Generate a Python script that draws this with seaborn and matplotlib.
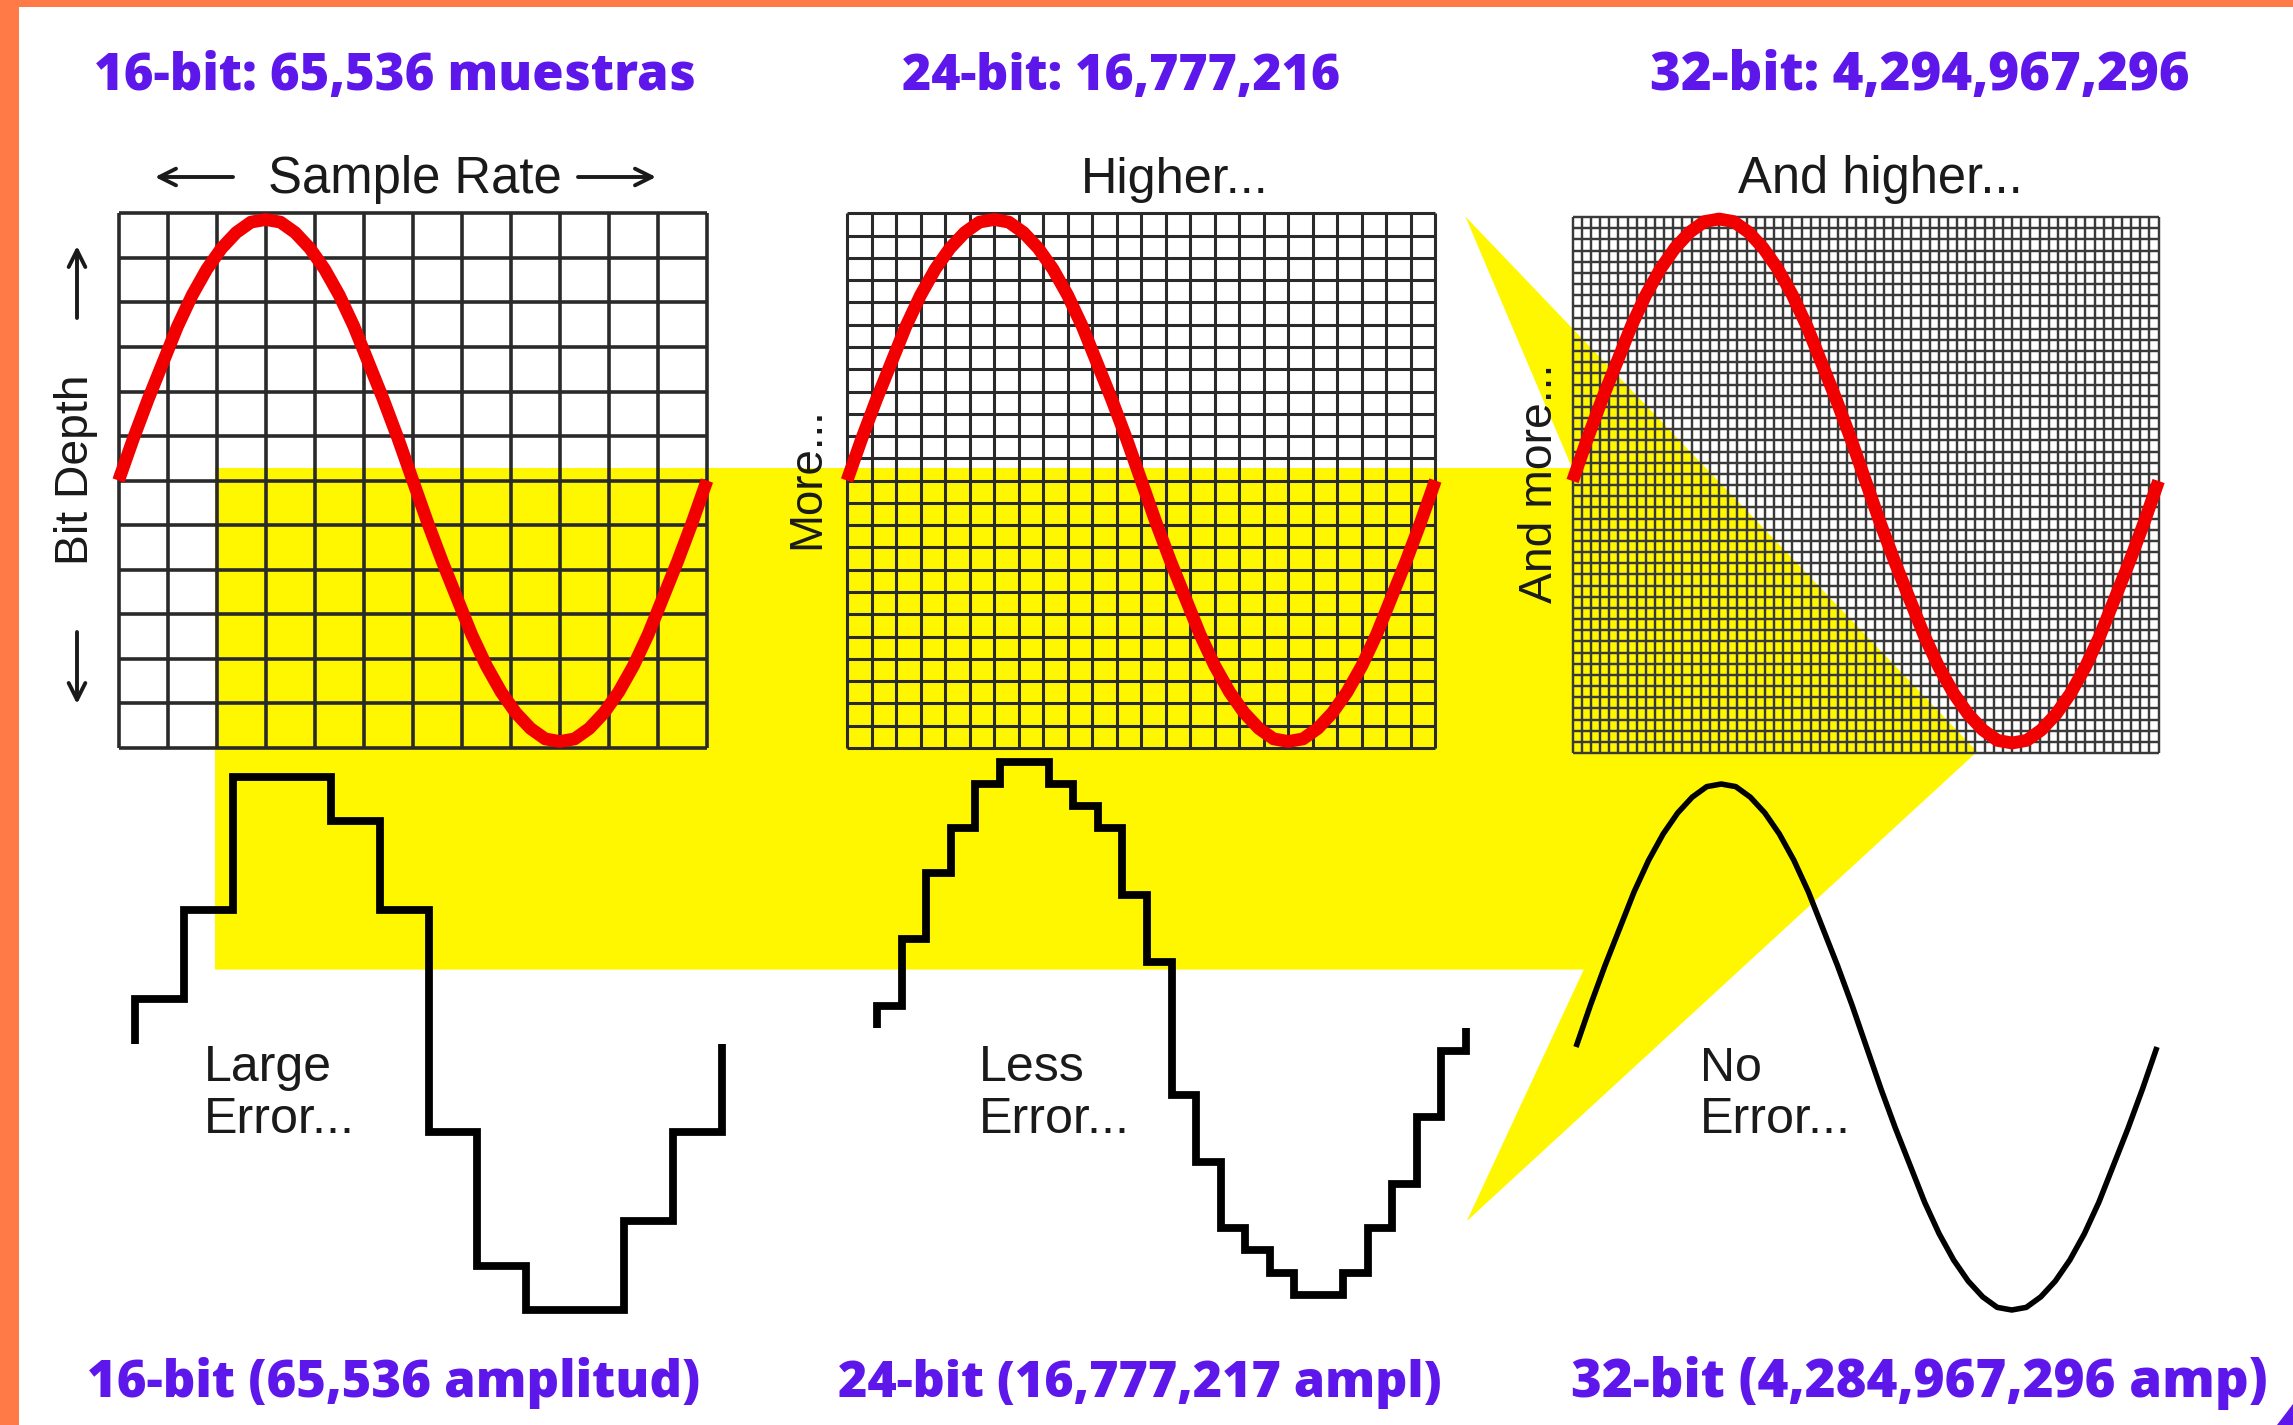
import numpy as np
import matplotlib
matplotlib.use("Agg")
import matplotlib.pyplot as plt
from matplotlib.patches import Rectangle
import seaborn as sns
import pandas as pd

sns.set_theme(style="white")
plt.rcParams["font.family"] = ["Liberation Sans", "DejaVu Sans"]

W, H, DPI = 2293, 1425, 100

# ------------------------------------------------------------------ data
top_titles = ["16-bit: 65,536 muestras", "24-bit: 16,777,216", "32-bit: 4,294,967,296"]
bottom_titles = ["16-bit (65,536 amplitud)", "24-bit (16,777,217 ampl)", "32-bit (4,284,967,296 amp)"]
panel_headers = ["Sample Rate", "Higher...", "And higher..."]
side_labels = ["Bit Depth", "More...", "And more..."]
error_words = ["Large", "Less", "No"]
error_tail = "Error..."
grid_cols = [12, 24, 64]
grid_rows = [12, 24, 48]

# one period of the analog wave, read at 1/40-period steps (normalised amplitude)
wave_phase = [i / 40 for i in range(41)]
wave_amp = [0.00, 0.16, 0.31, 0.45, 0.59, 0.71, 0.81, 0.89, 0.95, 0.99,
            1.00, 0.99, 0.95, 0.89, 0.81, 0.71, 0.59, 0.45, 0.31, 0.16,
            0.00, -0.16, -0.31, -0.45, -0.59, -0.71, -0.81, -0.89, -0.95, -0.99,
            -1.00, -0.99, -0.95, -0.89, -0.81, -0.71, -0.59, -0.45, -0.31, -0.16, 0.00]

# quantised sample levels (in quantisation steps around zero)
steps_16 = [1, 3, 6, 6, 5, 3, -2, -5, -6, -6, -4, -2]
steps_24 = [1, 4, 7, 9, 11, 12, 12, 11, 10, 9, 6, 3,
            -3, -6, -9, -10, -11, -12, -12, -11, -9, -7, -4, -1]

# ------------------------------------------------------------------ style
PURPLE = "#5E17EB"
ORANGE = "#FF7A47"
YELLOW = "#FFF700"
RED = "#F20000"
INK = "#1a1a1a"
GRIDC = ["#2a2a2a", "#2a2a2a", "#3a3a3a"]
GRIDLW = [2.6, 2.2, 1.75]

fig = plt.figure(figsize=(W / DPI, H / DPI), dpi=DPI)
fig.patch.set_facecolor("white")


def rect(x0, y0, x1, y1):
    return [x0 / W, 1 - y1 / H, (x1 - x0) / W, (y1 - y0) / H]


# background axes in pixel space (decoration layer)
bg = fig.add_axes([0, 0, 1, 1], zorder=0)
bg.set_xlim(0, W)
bg.set_ylim(H, 0)
bg.axis("off")

yellow_x = [147, 1075, 1002, 1352, 1003, 1083, 147]
yellow_y = [320, 320, 148, 514, 835, 663, 663]
yellow_x = [v * 1.4624 for v in yellow_x]
yellow_y = [v * 1.4624 for v in yellow_y]
bg.fill(yellow_x, yellow_y, color=YELLOW, lw=0, zorder=0)
bg.add_patch(Rectangle((0, 0), 19, H, color=ORANGE, lw=0, zorder=5))
bg.add_patch(Rectangle((0, 0), W, 7, color=ORANGE, lw=0, zorder=5))
bg.fill([2277, 2293, 2293], [1425, 1404, 1425], color=PURPLE, lw=0)

# arrows around "Sample Rate" / "Bit Depth"
arrow_kw = dict(arrowstyle="->", lw=2.8, color=INK, mutation_scale=30, shrinkA=0, shrinkB=0)
bg.annotate("", xy=(155, 177), xytext=(233, 177), arrowprops=arrow_kw)
bg.annotate("", xy=(656, 177), xytext=(578, 177), arrowprops=arrow_kw)
bg.annotate("", xy=(77, 246), xytext=(77, 318), arrowprops=arrow_kw)
bg.annotate("", xy=(77, 704), xytext=(77, 632), arrowprops=arrow_kw)

# ------------------------------------------------------------------ grid panels with red wave
grid_boxes = [(118.6, 213.3, 707.0, 747.9), (847.0, 213.3, 1435.4, 747.9), (1572.6, 217.0, 2158.6, 753.0)]
wave_center = [480.5, 480.5, 481.0]
wave_half = [261.0, 261.0, 262.0]

for i, (x0, y0, x1, y1) in enumerate(grid_boxes):
    ax = fig.add_axes(rect(x0, y0, x1, y1), zorder=2)
    ax.patch.set_alpha(0)
    top = (wave_center[i] - y0) / wave_half[i]
    bot = (wave_center[i] - y1) / wave_half[i]
    ax.set_xlim(0, 1)
    ax.set_ylim(bot, top)
    ax.axis("off")
    xs = np.linspace(0, 1, grid_cols[i] + 1)
    ys = np.linspace(bot, top, grid_rows[i] + 1)
    ax.vlines(xs, bot, top, colors=GRIDC[i], lw=GRIDLW[i], clip_on=False, zorder=1)
    ax.hlines(ys, 0, 1, colors=GRIDC[i], lw=GRIDLW[i], clip_on=False, zorder=1)
    df = pd.DataFrame({"phase": wave_phase, "amp": wave_amp})
    sns.lineplot(data=df, x="phase", y="amp", ax=ax, color=RED, lw=9.2,
                 estimator=None, sort=False, zorder=3, solid_capstyle="butt",
                 solid_joinstyle="round")
    for ln in ax.lines:
        ln.set_clip_on(False)
    ax.set_xlabel("")
    ax.set_ylabel("")


# ------------------------------------------------------------------ quantised step waves
def step_frame(levels):
    n = len(levels)
    xs = [0] + list(range(0, n + 1)) + [n]
    ys = [0] + list(levels) + [levels[-1], 0]
    return pd.DataFrame({"sample": xs, "level": ys})


step_sets = [steps_16, steps_24]
step_boxes = [(135, 777, 722, 1310), (877, 761.8, 1466, 1294.8)]
step_full = [6, 12]
for levels, (x0, y0, x1, y1), full in zip(step_sets, step_boxes, step_full):
    ax = fig.add_axes(rect(x0, y0, x1, y1), zorder=3)
    ax.patch.set_alpha(0)
    ax.set_xlim(0, len(levels))
    ax.set_ylim(-full, full)
    ax.axis("off")
    sns.lineplot(data=step_frame(levels), x="sample", y="level", ax=ax, color="black",
                 lw=5.6, estimator=None, sort=False, drawstyle="steps-post",
                 solid_joinstyle="miter", solid_capstyle="butt")
    for ln in ax.lines:
        ln.set_clip_on(False)

# analog (no error) wave
ax = fig.add_axes(rect(1576, 784, 2157, 1310), zorder=3)
ax.patch.set_alpha(0)
ax.set_xlim(0, 1)
ax.set_ylim(-1, 1)
ax.axis("off")
sns.lineplot(x=wave_phase, y=wave_amp, ax=ax, color="black", lw=4.0,
             estimator=None, sort=False, solid_capstyle="butt")
for ln in ax.lines:
    ln.set_clip_on(False)

# ------------------------------------------------------------------ text
renderer = fig.canvas.get_renderer()


def fit_text(s, x0, x1, y, family, weight, color):
    t = fig.text(x0 / W, 1 - y / H, s, ha="left", va="baseline", fontsize=30,
                 family=family, fontweight=weight, color=color, zorder=10)
    for _ in range(2):
        w = t.get_window_extent(renderer).width
        t.set_fontsize(t.get_fontsize() * (x1 - x0) / w)
    return t


def fit_vtext(s, xc, y0, y1, family, color):
    t = fig.text(xc / W, 1 - (y0 + y1) / 2 / H, s, ha="center", va="center",
                 rotation=90, fontsize=30, family=family, color=color, zorder=10)
    for _ in range(2):
        h = t.get_window_extent(renderer).height
        t.set_fontsize(t.get_fontsize() * (y1 - y0) / h)
    return t


TITLE_FONT = ["Open Sans", "DejaVu Sans"]
BODY_FONT = ["Liberation Sans", "DejaVu Sans"]

top_spans = [(94, 696), (902, 1340), (1650, 2189)]
for s, (a, b) in zip(top_titles, top_spans):
    fit_text(s, a, b, 90, TITLE_FONT, 800, PURPLE)

bottom_spans = [(87, 701), (838, 1442), (1571, 2267)]
for s, (a, b) in zip(bottom_titles, bottom_spans):
    fit_text(s, a, b, 1397, TITLE_FONT, 800, PURPLE)

header_spans = [(268, 562), (1081, 1269), (1738, 2023)]
for s, (a, b) in zip(panel_headers, header_spans):
    fit_text(s, a, b, 193, BODY_FONT, "normal", INK)

side_pos = [(76, 375, 565), (807, 407, 549), (1540, 364, 603)]
for s, (xc, a, b) in zip(side_labels, side_pos):
    fit_vtext(s, xc, a, b, BODY_FONT, INK)

word_spans = [(204, 332), (979, 1085), (1700, 1762)]
tail_lefts = [204, 979, 1700]
for s, (a, b), tl in zip(error_words, word_spans, tail_lefts):
    fit_text(s, a, b, 1081, BODY_FONT, "normal", INK)
    fit_text(error_tail, tl, tl + 151, 1133, BODY_FONT, "normal", INK)

fig.savefig("out.png", dpi=DPI, facecolor="white")
